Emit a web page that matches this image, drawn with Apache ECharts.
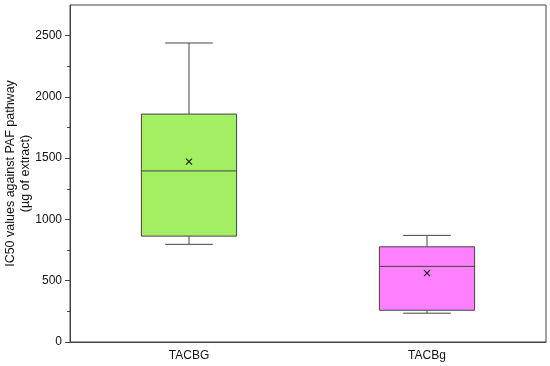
<!DOCTYPE html>
<html><head><meta charset="utf-8">
<script src="https://cdn.jsdelivr.net/npm/echarts@6/dist/echarts.min.js"></script>
<style>html,body{margin:0;padding:0;background:#fff}#c{width:550px;height:366px}</style>
</head><body><div id="c"></div>
<script>
var categories = ['TACBG', 'TACBg'];
// [lowerWhisker, Q1, median, Q3, upperWhisker]
var boxValues = [
  [797, 864, 1396, 1860, 2440],
  [235, 259, 617, 777, 870]
];
var meanValues = [1472, 562];
var boxColors = ['#a3ee63', '#ff80ff'];
var majorTicks = [0, 500, 1000, 1500, 2000, 2500];
var minorTicks = [250, 750, 1250, 1750, 2250];
var yTitle = 'IC50 values against PAF pathway\n(µg of extract)';

var data = categories.map(function (c, i) {
  return [i].concat(boxValues[i]).concat([meanValues[i]]);
});

var chart = echarts.init(document.getElementById('c'), null, {renderer: 'canvas'});
var lineCol = '#444';
var font = 'Liberation Sans, Arial, sans-serif';

function renderItem(params, api) {
  var idx = api.value(0);
  var lw = api.coord([idx, api.value(1)]);
  var q1 = api.coord([idx, api.value(2)]);
  var med = api.coord([idx, api.value(3)]);
  var q3 = api.coord([idx, api.value(4)]);
  var uw = api.coord([idx, api.value(5)]);
  var mn = api.coord([idx, api.value(6)]);
  var bandW = api.size([1, 0])[0];
  var boxW = bandW * 0.4;
  var capW = bandW * 0.2;
  var x = lw[0];
  var ls = {stroke: lineCol, lineWidth: 1};
  var m = 3;
  return {
    type: 'group',
    children: [
      {type: 'line', shape: {x1: x, y1: uw[1], x2: x, y2: q3[1]}, style: ls},
      {type: 'line', shape: {x1: x, y1: lw[1], x2: x, y2: q1[1]}, style: ls},
      {type: 'line', shape: {x1: x - capW / 2, y1: uw[1], x2: x + capW / 2, y2: uw[1]}, style: ls},
      {type: 'line', shape: {x1: x - capW / 2, y1: lw[1], x2: x + capW / 2, y2: lw[1]}, style: ls},
      {type: 'rect', shape: {x: x - boxW / 2, y: q3[1], width: boxW, height: q1[1] - q3[1]},
        style: {fill: boxColors[idx], stroke: lineCol, lineWidth: 1}},
      {type: 'line', shape: {x1: x - boxW / 2, y1: med[1], x2: x + boxW / 2, y2: med[1]}, style: ls},
      {type: 'line', shape: {x1: x - m, y1: mn[1] - m, x2: x + m, y2: mn[1] + m}, style: {stroke: '#222', lineWidth: 1.2}},
      {type: 'line', shape: {x1: x - m, y1: mn[1] + m, x2: x + m, y2: mn[1] - m}, style: {stroke: '#222', lineWidth: 1.2}}
    ]
  };
}

chart.setOption({
  animation: false,
  backgroundColor: '#fff',
  grid: {left: 70, right: 4, top: 5, bottom: 24, show: true, borderColor: lineCol, borderWidth: 1,
    containLabel: false, outerBoundsMode: 'none'},
  xAxis: {
    type: 'category',
    data: categories,
    boundaryGap: true,
    axisLine: {lineStyle: {color: lineCol}},
    axisTick: {alignWithLabel: true, length: 5, lineStyle: {color: lineCol}},
    axisLabel: {color: '#111', fontFamily: font, fontSize: 12, margin: 8},
    splitLine: {show: false}
  },
  yAxis: [{
    type: 'value', min: 0, max: 2750,
    name: yTitle, nameLocation: 'middle', nameGap: 37, nameRotate: 90, nameMoveOverlap: false,
    nameTextStyle: {color: '#111', fontFamily: font, fontSize: 12.5, lineHeight: 15},
    axisLine: {show: true, lineStyle: {color: lineCol}},
    axisTick: {show: true, length: 5, customValues: majorTicks, lineStyle: {color: lineCol}},
    axisLabel: {color: '#111', fontFamily: font, fontSize: 12, margin: 8, customValues: majorTicks,
      formatter: function (v) { return String(v); }},
    splitLine: {show: false}
  }, {
    type: 'value', min: 0, max: 2750, position: 'left',
    axisLine: {show: false},
    axisTick: {show: true, length: 3, customValues: minorTicks, lineStyle: {color: lineCol}},
    axisLabel: {show: false},
    splitLine: {show: false}
  }],
  series: [{
    type: 'custom',
    renderItem: renderItem,
    data: data,
    encode: {x: 0, y: [1, 2, 3, 4, 5, 6]},
    xAxisIndex: 0, yAxisIndex: 0
  }]
});
</script></body></html>
